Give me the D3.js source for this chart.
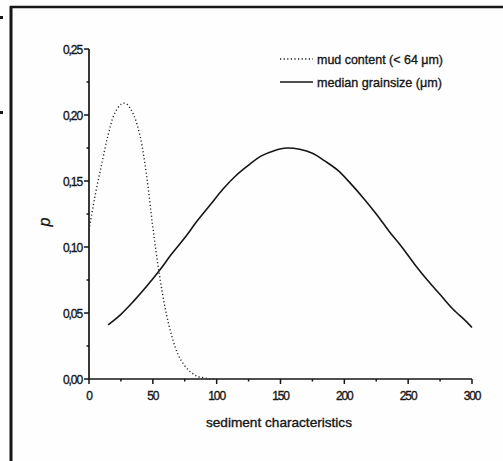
<!DOCTYPE html>
<html><head><meta charset="utf-8">
<script src="https://cdn.jsdelivr.net/npm/d3@7"></script>
<style>html,body{margin:0;padding:0;background:#fff;}svg{display:block;}</style>
</head><body>
<script>
// Data
const mudX = [0,5,10,15,20,25,28,30,35,40,45,50,55,60,65,70,75,80,85,90,95,100];
const mudP = [0.113,0.140,0.163,0.185,0.201,0.208,0.209,0.208,0.200,0.184,0.155,0.115,0.080,0.052,0.032,0.018,0.010,0.005,0.002,0.001,0.000,0.000];
const grainX = [15,25,35,45,55,65,75,85,95,105,115,125,135,145,155,165,175,185,195,205,215,225,235,245,255,265,275,285,295,300];
const grainP = [0.041,0.049,0.059,0.070,0.082,0.095,0.107,0.120,0.132,0.144,0.154,0.162,0.169,0.173,0.175,0.174,0.171,0.165,0.158,0.148,0.137,0.125,0.112,0.100,0.087,0.075,0.064,0.053,0.044,0.039];
const xTicks = [0,50,100,150,200,250,300];
const yTicks = [0,0.05,0.10,0.15,0.20,0.25];
const legendLabels = ["mud content (< 64 \u03bcm)", "median grainsize (\u03bcm)"];
const xTitle = "sediment characteristics";
const yTitle = "p";

const W = 503, H = 461;
const svg = d3.select("body").append("svg").attr("width", W).attr("height", H);
svg.append("rect").attr("width", W).attr("height", H).attr("fill", "#fefefe");

const ink = "#161616";
const font = "'Liberation Sans Narrow','Liberation Sans',Arial,sans-serif";

// frame of the scanned figure
svg.append("line").attr("x1", 11).attr("x2", 11).attr("y1", 6).attr("y2", H).attr("stroke", ink).attr("stroke-width", 3);
svg.append("line").attr("x1", 10).attr("x2", W).attr("y1", 7).attr("y2", 7).attr("stroke", ink).attr("stroke-width", 2.5);
// scan specks at the left edge
svg.append("rect").attr("x", 0).attr("y", 16).attr("width", 3).attr("height", 3).attr("fill", ink);
svg.append("rect").attr("x", 0).attr("y", 111).attr("width", 3).attr("height", 3).attr("fill", ink);

const x = d3.scaleLinear().domain([0, 300]).range([89, 472]);
const y = d3.scaleLinear().domain([0, 0.25]).range([379, 49]);

// axes
const g = svg.append("g");
g.append("line").attr("x1", x(0)).attr("x2", x(300)).attr("y1", y(0)).attr("y2", y(0)).attr("stroke", ink).attr("stroke-width", 1.7);
g.append("line").attr("x1", x(0)).attr("x2", x(0)).attr("y1", y(0)).attr("y2", y(0.25)).attr("stroke", ink).attr("stroke-width", 1.7);

const xMinor = d3.range(25, 300, 50);
const yMinor = d3.range(0.025, 0.25, 0.05);
g.selectAll(".xt").data(xTicks).join("line")
  .attr("x1", d => x(d)).attr("x2", d => x(d)).attr("y1", y(0)).attr("y2", y(0) + 5)
  .attr("stroke", ink).attr("stroke-width", 1.5);
g.selectAll(".xm").data(xMinor).join("line")
  .attr("x1", d => x(d)).attr("x2", d => x(d)).attr("y1", y(0)).attr("y2", y(0) + 2.5)
  .attr("stroke", ink).attr("stroke-width", 1.5);
g.selectAll(".yt").data(yTicks).join("line")
  .attr("x1", x(0) - 5).attr("x2", x(0)).attr("y1", d => y(d)).attr("y2", d => y(d))
  .attr("stroke", ink).attr("stroke-width", 1.5);
g.selectAll(".ym").data(yMinor).join("line")
  .attr("x1", x(0) - 2.5).attr("x2", x(0)).attr("y1", d => y(d)).attr("y2", d => y(d))
  .attr("stroke", ink).attr("stroke-width", 1.5);

const fmtY = d => d3.format(".2f")(d).replace(".", ",");
g.selectAll(".yl").data(yTicks).join("text")
  .attr("x", 82).attr("y", d => y(d) + 4.5)
  .attr("text-anchor", "end").attr("font-family", font).attr("font-size", 12)
  .attr("letter-spacing", -1.1).attr("fill", ink).attr("stroke", ink).attr("stroke-width", 0.35)
  .text(fmtY);
g.selectAll(".xl").data(xTicks).join("text")
  .attr("x", d => x(d)).attr("y", 400)
  .attr("text-anchor", "middle").attr("font-family", font).attr("font-size", 12)
  .attr("letter-spacing", -1.1).attr("fill", ink).attr("stroke", ink).attr("stroke-width", 0.35)
  .text(d => d);

// titles
svg.append("text").attr("x", 279).attr("y", 427).attr("text-anchor", "middle")
  .attr("font-family", font).attr("font-size", 13).attr("fill", ink).attr("stroke", ink).attr("stroke-width", 0.35)
  .attr("textLength", 146).attr("lengthAdjust", "spacingAndGlyphs").text(xTitle);
svg.append("text").attr("transform", "translate(50,222) rotate(-90)").attr("text-anchor", "middle")
  .attr("font-family", font).attr("font-size", 16).attr("font-style", "italic").attr("fill", ink)
  .attr("stroke", ink).attr("stroke-width", 0.3).text(yTitle);

// curves
const line = d3.line().x(d => x(d[0])).y(d => y(d[1])).curve(d3.curveCatmullRom);
svg.append("path").datum(d3.zip(grainX, grainP)).attr("d", line)
  .attr("fill", "none").attr("stroke", ink).attr("stroke-width", 1.6);
svg.append("path").datum(d3.zip(mudX, mudP)).attr("d", line)
  .attr("fill", "none").attr("stroke", "#2a2a2a").attr("stroke-width", 1.4).attr("stroke-dasharray", "1.2,2.4");

// legend
const leg = svg.append("g");
const legY = [59, 82];
const legDash = ["1.2,2.4", null];
leg.selectAll("line").data(legendLabels).join("line")
  .attr("x1", 280).attr("x2", 313).attr("y1", (d, i) => legY[i]).attr("y2", (d, i) => legY[i])
  .attr("stroke", ink).attr("stroke-width", 1.4).attr("stroke-dasharray", (d, i) => legDash[i]);
leg.selectAll("text").data(legendLabels).join("text")
  .attr("x", 317).attr("y", (d, i) => legY[i] + 4.5)
  .attr("font-family", font).attr("font-size", 13).attr("fill", ink).attr("stroke", ink).attr("stroke-width", 0.35)
  .attr("textLength", (d, i) => i === 0 ? 126 : 125).attr("lengthAdjust", "spacingAndGlyphs")
  .text(d => d);
</script>
</body></html>
